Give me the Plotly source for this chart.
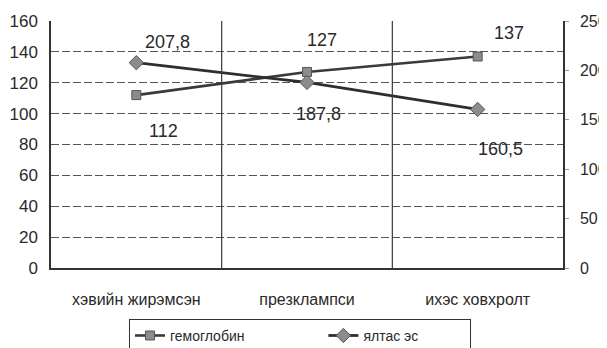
import plotly.graph_objects as go

categories = ["хэвийн жирэмсэн", "презклампси", "ихэс ховхролт"]
hemoglobin = [112, 127, 137]
platelets = [207.8, 187.8, 160.5]
hemo_labels = ["112", "127", "137"]
plat_labels = ["207,8", "187,8", "160,5"]
left_ticks = [0, 20, 40, 60, 80, 100, 120, 140, 160]
right_ticks = [0, 50, 100, 150, 200, 250]

xs = list(range(len(categories)))
font = "Liberation Sans, Arial, sans-serif"

fig = go.Figure()
fig.add_trace(go.Scatter(
    x=xs, y=hemoglobin, name="гемоглобин" + "\u00a0" * 19, mode="lines+markers",
    line=dict(color="#3a3a3a", width=2.6),
    marker=dict(symbol="square", size=9, color="#8c8c8c", line=dict(color="#555", width=1)),
))
fig.add_trace(go.Scatter(
    x=xs, y=platelets, name="ялтас эс" + "\u00a0" * 12, mode="lines+markers", yaxis="y2",
    line=dict(color="#2e2e2e", width=2.8),
    marker=dict(symbol="diamond", size=11, color="#8c8c8c", line=dict(color="#555", width=1)),
))

hemo_shift = [-36, 32, 24]
plat_shift = [21, -32, -40]
hemo_xshift = [27, 15, 31]
plat_xshift = [31, 11, 23]
annotations = []
for i in xs:
    annotations.append(dict(x=i, y=hemoglobin[i], xref="x", yref="y", text=hemo_labels[i],
                            showarrow=False, yshift=hemo_shift[i], xshift=hemo_xshift[i],
                            font=dict(size=18, color="#2a2a2a", family=font)))
    annotations.append(dict(x=i, y=platelets[i], xref="x", yref="y2", text=plat_labels[i],
                            showarrow=False, yshift=plat_shift[i], xshift=plat_xshift[i],
                            font=dict(size=18, color="#2a2a2a", family=font)))

shapes = [dict(type="line", xref="x", yref="paper", x0=b, x1=b, y0=0, y1=1,
               line=dict(color="#3a3a3a", width=1.2)) for b in (0.5, 1.5)]

fig.update_layout(
    width=599, height=340,
    margin=dict(l=43, r=44, t=13, b=80, autoexpand=False),
    paper_bgcolor="white", plot_bgcolor="white",
    font=dict(family=font, size=17, color="#2a2a2a"),
    xaxis=dict(range=[-0.5, 2.5], tickvals=xs, ticktext=categories, showgrid=False,
               zeroline=False, showline=True, linecolor="#333", linewidth=1.5,
               ticks="", tickfont=dict(size=16), ticklabelstandoff=16, automargin=False),
    yaxis=dict(range=[0, 160], tickvals=left_ticks, showgrid=True, gridcolor="#555",
               griddash="8px,3px", gridwidth=1.2, zeroline=False, showline=True,
               linecolor="#333", linewidth=1.5, ticks="", tickfont=dict(size=17),
               ticklabelstandoff=8, automargin=False),
    yaxis2=dict(range=[0, 250], tickvals=right_ticks, overlaying="y", side="right",
                showgrid=False, zeroline=False, showline=True, linecolor="#333",
                linewidth=1.5, ticks="outside", ticklen=4, tickcolor="#999",
                tickfont=dict(size=16), ticklabelstandoff=8, automargin=False),
    legend=dict(orientation="h", x=(129 - 51) / 512, xanchor="left", y=-0.206, yanchor="top",
                bordercolor="#333", borderwidth=1, font=dict(size=14)),
    annotations=annotations,
    shapes=shapes,
    showlegend=True,
)

fig.write_html("out.html")
